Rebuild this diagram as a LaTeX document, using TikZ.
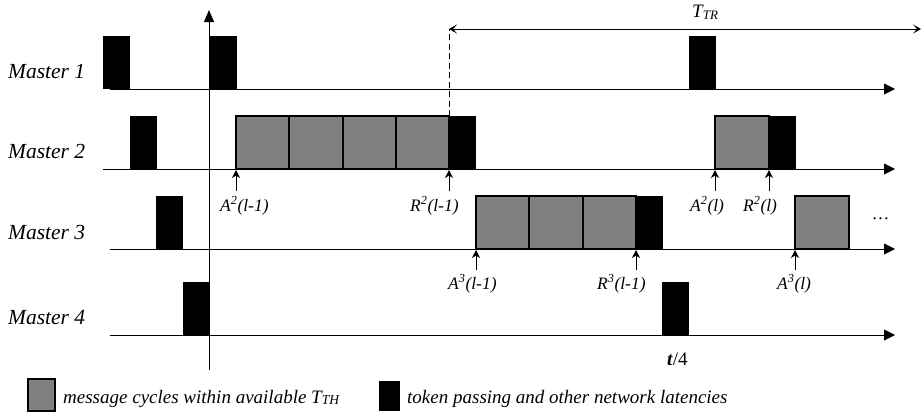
\documentclass[tikz,border=0pt]{standalone}
\usepackage{fontspec}
\setmainfont{Liberation Serif}
\usetikzlibrary{arrows.meta}
\definecolor{msggray}{HTML}{808080}
\begin{document}
\begin{tikzpicture}[x=1pt,y=-1pt,
  token/.style={fill=black},
  msg/.style={fill=msggray,draw=black,line width=1.1pt},
  timeline/.style={line width=0.9pt,-{Triangle[length=11pt,width=11pt]}},
  uparrow/.style={line width=1pt,-{Stealth[length=8pt,width=8pt,inset=2.5pt]}},
  span/.style={line width=0.8pt,{Stealth[length=8pt,width=9pt,inset=4pt]}-{Stealth[length=8pt,width=9pt,inset=4pt]}},
  master/.style={font=\fontsize{21.5}{24}\selectfont\itshape,anchor=base west,inner sep=0pt},
  evlabel/.style={font=\fontsize{17.5}{20}\selectfont\itshape,anchor=base west,inner sep=0pt},
  legtext/.style={font=\fontsize{19}{22}\selectfont\itshape,anchor=base west,inner sep=0pt}
]
\useasboundingbox (0,0) rectangle (923,416);

% master labels
\node[master] (m1) at (8,78) {Master 1};
\node[master] (m2) at (8,158) {Master 2};
\node[master] (m3) at (8,239) {Master 3};
\node[master] (m4) at (8,324) {Master 4};

% token boxes
\fill[token] (103,36) rectangle (130,89);
\fill[token] (210,36) rectangle (237,89);
\fill[token] (689,36) rectangle (716,89);
\fill[token] (130,116) rectangle (157,169);
\fill[token] (449,116) rectangle (476,169);
\fill[token] (769,116) rectangle (796,169);
\fill[token] (156,196) rectangle (183,249);
\fill[token] (636,196) rectangle (663,249);
\fill[token] (183,282) rectangle (210,335);
\fill[token] (662,282) rectangle (689,335);

% message boxes
\draw[msg] (236,116) rectangle (289,169);
\draw[msg] (289,116) rectangle (343,169);
\draw[msg] (343,116) rectangle (396,169);
\draw[msg] (396,116) rectangle (449,169);
\draw[msg] (715,116) rectangle (769,169);
\draw[msg] (476,196) rectangle (529,249);
\draw[msg] (529,196) rectangle (583,249);
\draw[msg] (583,196) rectangle (636,249);
\draw[msg] (795,196) rectangle (849,249);

% timelines
\coordinate (l1s) at (110,89);  \coordinate (l1e) at (895,89);
\coordinate (l2s) at (103,169); \coordinate (l2e) at (895,169);
\coordinate (l3s) at (110,249); \coordinate (l3e) at (895,249);
\coordinate (l4s) at (110,335); \coordinate (l4e) at (895,335);
\draw[timeline] (l1s) -- (l1e);
\draw[timeline] (l2s) -- (l2e);
\draw[timeline] (l3s) -- (l3e);
\draw[timeline] (l4s) -- (l4e);

% vertical axis
\coordinate (vs) at (209,370); \coordinate (ve) at (209,10);
\draw[line width=0.9pt,-{Triangle[length=12pt,width=10pt]}] (vs) -- (ve);

% T_TR span
\coordinate (ds) at (449,116); \coordinate (de) at (449,29);
\coordinate (te) at (921,29);
\draw[dashed,dash pattern=on 6pt off 3.5pt,line width=0.8pt] (ds) -- (de);
\draw[span] (de) -- (te);
\node[evlabel,font=\fontsize{19}{22}\selectfont\itshape] (ttr) at (692,17) {T\raisebox{-0.3ex}{\fontsize{13}{14}\selectfont TR}};

% event arrows
\coordinate (a2s) at (236,191); \coordinate (a2e) at (236,170);
\coordinate (r2s) at (449,191); \coordinate (r2e) at (449,170);
\coordinate (a2ls) at (715,191); \coordinate (a2le) at (715,170);
\coordinate (r2ls) at (769,191); \coordinate (r2le) at (769,170);
\coordinate (a3s) at (476,270); \coordinate (a3e) at (476,250);
\coordinate (r3s) at (636,270); \coordinate (r3e) at (636,250);
\coordinate (a3ls) at (795,270); \coordinate (a3le) at (795,250);
\foreach \s/\e in {a2s/a2e,r2s/r2e,a2ls/a2le,r2ls/r2le,a3s/a3e,r3s/r3e,a3ls/a3le}
  \draw[uparrow] (\s) -- (\e);

% event labels
\node[evlabel] (la2) at (220,211) {A\textsuperscript{2}(l-1)};
\node[evlabel] (lr2) at (410,211) {R\textsuperscript{2}(l-1)};
\node[evlabel] (la2l) at (690,211) {A\textsuperscript{2}(l)};
\node[evlabel] (lr2l) at (743,211) {R\textsuperscript{2}(l)};
\node[evlabel] (la3) at (448,289) {A\textsuperscript{3}(l-1)};
\node[evlabel] (lr3) at (597,289) {R\textsuperscript{3}(l-1)};
\node[evlabel] (la3l) at (777,289) {A\textsuperscript{3}(l)};

% dots
\node[evlabel,anchor=base] (dots) at (881,219) {…};

% t/4
\node[evlabel,font=\fontsize{19}{22}\selectfont] (tau) at (667,365) {\textbf{\textit{t}}/4};

% legend
\draw[msg] (28,379) rectangle (55,411);
\node[legtext] (leg1) at (63,403) {message cycles within available T\raisebox{-0.2ex}{\fontsize{13.5}{14}\selectfont TH}};
\fill[token] (379,381) rectangle (400,411);
\node[legtext] (leg2) at (407,403) {token passing and other network latencies};
\end{tikzpicture}
\end{document}
